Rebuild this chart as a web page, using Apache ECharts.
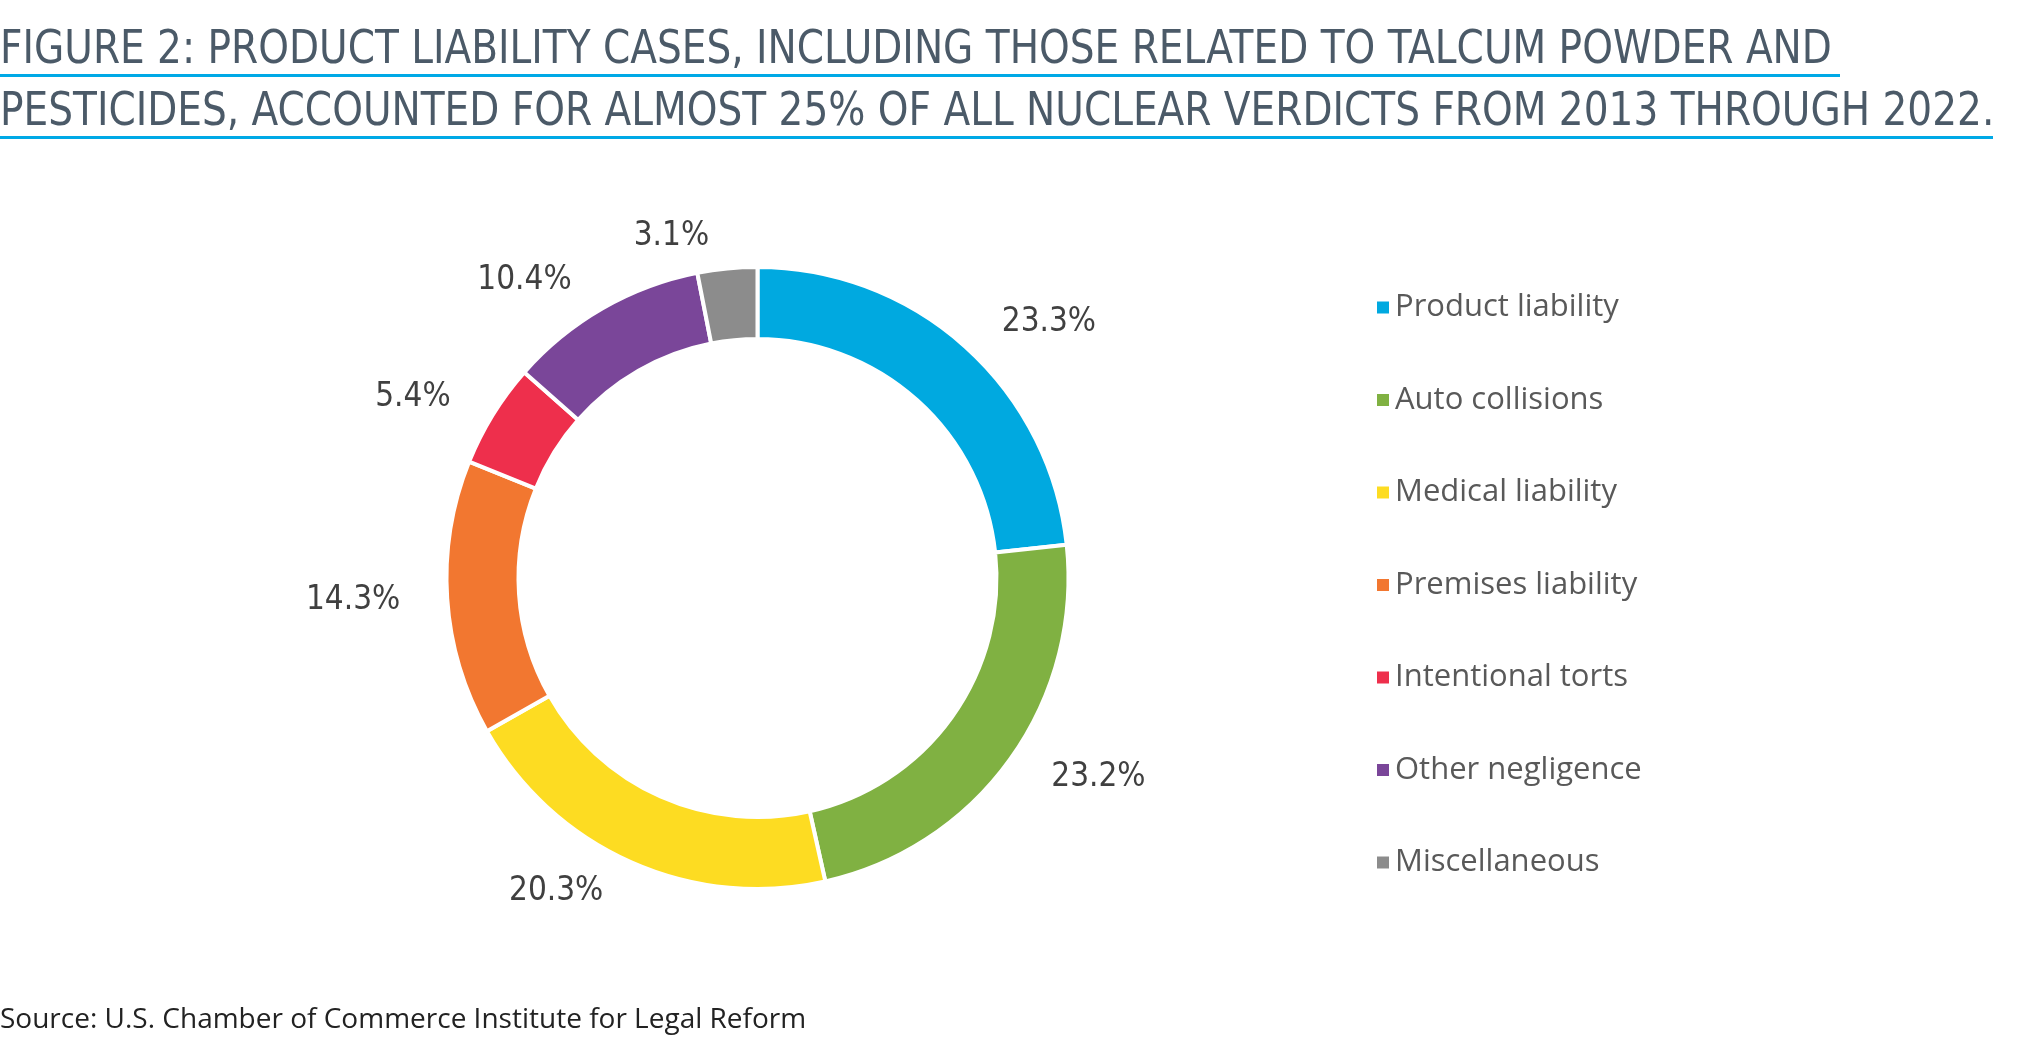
<!DOCTYPE html>
<html>
<head>
<meta charset="utf-8">
<script src="https://cdn.jsdelivr.net/npm/echarts@6/dist/echarts.min.js"></script>
<style>
html,body{margin:0;padding:0;background:#fff;}
#chart{width:2025px;height:1047px;}
</style>
</head>
<body>
<div id="chart"></div>
<script>
const titleLines = [
  'FIGURE 2: PRODUCT LIABILITY CASES, INCLUDING THOSE RELATED TO TALCUM POWDER AND',
  'PESTICIDES, ACCOUNTED FOR ALMOST 25% OF ALL NUCLEAR VERDICTS FROM 2013 THROUGH 2022.'
];
const sourceText = 'Source: U.S. Chamber of Commerce Institute for Legal Reform';
const categories = ['Product liability','Auto collisions','Medical liability','Premises liability','Intentional torts','Other negligence','Miscellaneous'];
const values = [23.3, 23.2, 20.3, 14.3, 5.4, 10.4, 3.1];
const colors = ['#00a9e0','#80b142','#fddc22','#f27730','#ee2f4c','#7a4699','#8c8c8c'];

const condensed = '"DejaVu Sans Condensed",sans-serif';
const chart = echarts.init(document.getElementById('chart'));
chart.setOption({
  backgroundColor: '#ffffff',
  animation: false,
  color: colors,
  graphic: [
    {type:'text', x: 0, y: 27, scaleX: 0.924, style:{text: titleLines[0], font: '47px ' + condensed, fill:'#4b5a68'}},
    {type:'rect', shape:{x:0, y:74, width:1840, height:3}, style:{fill:'#00a9e6'}},
    {type:'text', x: 0, y: 89, scaleX: 0.924, style:{text: titleLines[1], font: '47px ' + condensed, fill:'#4b5a68'}},
    {type:'rect', shape:{x:0, y:136, width:1993, height:3}, style:{fill:'#00a9e6'}},
    {type:'text', x: 0, y: 1006, style:{text: sourceText, font: '28px "Open Sans",sans-serif', fill:'#222222'}}
  ],
  legend: {
    orient: 'vertical',
    left: 1375,
    top: 292,
    padding: 0,
    icon: 'rect',
    itemWidth: 14,
    itemHeight: 14,
    itemGap: 61.5,
    itemTextGap: 19,
    data: categories,
    textStyle: {fontSize: 31, fontFamily: '"Open Sans",sans-serif', color: '#595959', lineHeight: 30}
  },
  series: [{
    type: 'pie',
    center: [757.5, 578],
    radius: [239, 311],
    startAngle: 90,
    clockwise: true,
    avoidLabelOverlap: false,
    itemStyle: {borderColor: '#ffffff', borderWidth: 4},
    label: {
      show: true,
      position: 'outside',
      formatter: p => p.value.toFixed(1) + '%',
      fontSize: 33,
      fontFamily: condensed,
      color: '#404040'
    },
    labelLine: {show: false, length: 32, length2: 10},
    emphasis: {disabled: true},
    data: categories.map((c, i) => ({name: c, value: values[i]}))
  }]
});
</script>
</body>
</html>
